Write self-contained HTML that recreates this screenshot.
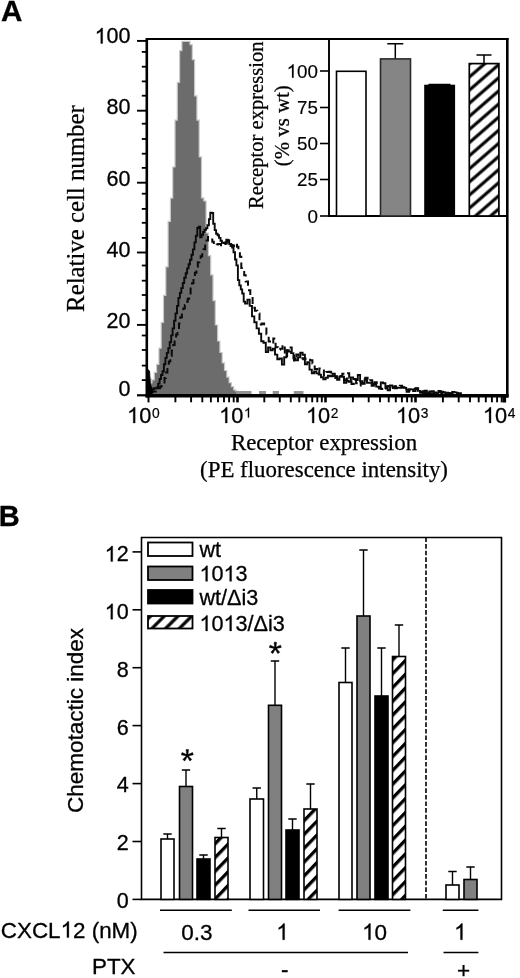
<!DOCTYPE html>
<html><head><meta charset="utf-8"><title>Figure</title>
<style>
html,body{margin:0;padding:0;background:#fff;}
body{width:520px;height:978px;overflow:hidden;font-family:"Liberation Sans",sans-serif;}
svg{display:block;filter:grayscale(1)}
.s{font-family:"Liberation Sans",sans-serif;fill:#000;stroke:#000;stroke-width:0.3px}
.f{font-family:"Liberation Serif",serif;fill:#000;stroke:#000;stroke-width:0.25px}
</style></head><body>
<svg width="520" height="978" viewBox="0 0 520 978">
<rect width="520" height="978" fill="#fff"/>
<defs>
<pattern id="hatchA" patternUnits="userSpaceOnUse" width="9.9" height="9.9" patternTransform="translate(469.5,76.9) rotate(-41)"><rect width="9.9" height="9.9" fill="#fff"/><rect y="-1.55" width="9.9" height="3.1" fill="#000"/><rect y="8.35" width="9.9" height="3.1" fill="#000"/></pattern>
<pattern id="hatchB" patternUnits="userSpaceOnUse" width="9.6" height="9.6" patternTransform="rotate(-46)"><rect width="9.6" height="9.6" fill="#fff"/><rect y="0" width="9.6" height="3.3" fill="#000"/></pattern>
<pattern id="hatchL" patternUnits="userSpaceOnUse" width="9.7" height="9.7" patternTransform="translate(152.4,628) rotate(-45)"><rect width="9.7" height="9.7" fill="#fff"/><rect y="-1.6" width="9.7" height="3.2" fill="#000"/><rect y="8.1" width="9.7" height="3.2" fill="#000"/></pattern>
</defs>
<polygon points="148.0,395.0 148.0,378.9 150.3,378.9 150.3,383.6 152.6,383.6 152.6,380.5 154.9,380.5 154.9,373.0 157.2,373.0 157.2,365.0 159.5,365.0 159.5,348.7 161.8,348.7 161.8,322.9 164.1,322.9 164.1,296.0 166.4,296.0 166.4,267.5 168.7,267.5 168.7,222.0 171.0,222.0 171.0,198.7 173.3,198.7 173.3,167.6 175.6,167.6 175.6,120.7 177.9,120.7 177.9,82.9 180.2,82.9 180.2,51.2 182.5,51.2 182.5,42.0 184.8,42.0 184.8,42.0 187.1,42.0 187.1,42.0 189.4,42.0 189.4,45.2 191.7,45.2 191.7,60.3 194.0,60.3 194.0,96.5 196.3,96.5 196.3,120.8 198.6,120.8 198.6,157.4 200.9,157.4 200.9,198.4 203.2,198.4 203.2,201.6 205.5,201.6 205.5,233.6 207.8,233.6 207.8,256.3 210.1,256.3 210.1,275.4 212.4,275.4 212.4,301.3 214.7,301.3 214.7,325.6 217.0,325.6 217.0,341.6 219.3,341.6 219.3,353.1 221.6,353.1 221.6,363.5 223.9,363.5 223.9,371.1 226.2,371.1 226.2,377.7 228.5,377.7 228.5,383.2 230.8,383.2 230.8,387.2 233.1,387.2 233.1,390.6 235.4,390.6 235.4,392.0 237.7,392.0 237.7,392.5 240.0,392.5 240.0,395.0" fill="#6c6c6c" stroke="#c9c9c9" stroke-width="2.4" stroke-linejoin="miter"/>
<polygon points="148.0,395.0 148.0,378.9 150.3,378.9 150.3,383.6 152.6,383.6 152.6,380.5 154.9,380.5 154.9,373.0 157.2,373.0 157.2,365.0 159.5,365.0 159.5,348.7 161.8,348.7 161.8,322.9 164.1,322.9 164.1,296.0 166.4,296.0 166.4,267.5 168.7,267.5 168.7,222.0 171.0,222.0 171.0,198.7 173.3,198.7 173.3,167.6 175.6,167.6 175.6,120.7 177.9,120.7 177.9,82.9 180.2,82.9 180.2,51.2 182.5,51.2 182.5,42.0 184.8,42.0 184.8,42.0 187.1,42.0 187.1,42.0 189.4,42.0 189.4,45.2 191.7,45.2 191.7,60.3 194.0,60.3 194.0,96.5 196.3,96.5 196.3,120.8 198.6,120.8 198.6,157.4 200.9,157.4 200.9,198.4 203.2,198.4 203.2,201.6 205.5,201.6 205.5,233.6 207.8,233.6 207.8,256.3 210.1,256.3 210.1,275.4 212.4,275.4 212.4,301.3 214.7,301.3 214.7,325.6 217.0,325.6 217.0,341.6 219.3,341.6 219.3,353.1 221.6,353.1 221.6,363.5 223.9,363.5 223.9,371.1 226.2,371.1 226.2,377.7 228.5,377.7 228.5,383.2 230.8,383.2 230.8,387.2 233.1,387.2 233.1,390.6 235.4,390.6 235.4,392.0 237.7,392.0 237.7,392.5 240.0,392.5 240.0,395.0" fill="#6c6c6c"/>
<rect x="236" y="391" width="15.5" height="3.5" fill="#939393"/>
<rect x="259" y="391" width="7" height="3.5" fill="#939393"/>
<rect x="272.7" y="391" width="6.300000000000011" height="3.5" fill="#939393"/>
<rect x="293.8" y="391" width="9.699999999999989" height="3.5" fill="#939393"/>
<path d="M148.0,372.0V384.8H149.4V391.2H150.9V391.1H152.3V389.3H153.8V388.2H155.2V388.5H156.7V387.4H158.1V383.6H159.6V379.0H161.0V375.0H162.5V371.3H163.9V364.2H165.4V357.9H166.8V352.9H168.3V348.3H169.7V342.3H171.2V335.4H172.6V328.4H174.1V320.8H175.5V313.4H177.0V305.9H178.4V297.9H179.9V292.9H181.3V288.1H182.8V283.0H184.2V277.7H185.7V273.3H187.1V268.4H188.6V264.2H190.0V259.8H191.5V254.8H192.9V249.4H194.4V242.4H195.8V235.8H197.3V228.0H198.7V226.8H200.2V237.3H201.6V234.7H203.1V232.0H204.5V229.8H206.0V228.3H207.4V225.2H208.9V219.1H210.3V212.8H211.8V213.0H213.2V223.7H214.7V230.1H216.1V233.7H217.6V235.3H219.0V237.9H220.5V240.7H221.9V242.6H223.4V243.1H224.8V242.5H226.3V239.8H227.7V240.1H229.2V244.1H230.6V246.0H232.1V247.6H233.5V252.3H235.0V259.5H236.4V265.4H237.9V280.1H239.3V285.4H240.8V289.4H242.2V293.5H243.7V301.6H245.1V303.6H247.4V299.6H249.7V305.9H252.0V316.4H254.3V322.3H256.6V328.4H258.9V333.7H261.2V341.3H263.5V342.8H265.8V352.1H268.1V347.4H270.4V350.4H272.7V348.7H275.0V354.6H277.3V359.3H279.6V358.4H281.9V364.6H284.2V357.3H286.5V350.2H288.8V351.6H291.1V353.1H293.4V358.3H295.7V360.4H298.0V357.4H300.3V352.7H302.6V354.7H304.9V364.2H307.2V362.3H309.5V369.6H311.8V373.2H314.1V371.5H316.4V373.4H318.7V374.6H321.0V377.2H323.3V379.3H325.6V377.7H327.9V375.8H330.2V376.3H332.5V373.8H334.8V376.3H337.1V379.7H339.4V376.8H341.7V376.8H344.0V382.7H346.3V380.8H348.6V381.7H350.9V377.4H353.2V379.0H355.5V380.1H357.8V375.0H360.1V381.2H362.4V383.9H364.7V379.1H367.0V382.7H369.3V382.7H371.6V385.8H373.9V384.0H376.2V386.6H378.5V387.3H380.8V382.5H383.1V383.3H385.4V388.0H387.7V390.2H390.0V385.4H392.3V386.5H394.6V388.2H396.9V387.6H399.2V387.7H401.6V387.4H403.9V387.9H406.2V389.6H408.5V389.1H410.8V389.4H413.1V391.1H415.4V388.3H417.7V390.9H420.0V392.7H422.3V391.3H424.6V390.7H426.9V393.1H429.2V391.4H431.5V391.3H433.8V392.4H436.1V393.2H438.4V391.0H440.7V391.8H443.0V392.3H445.3V393.2H447.6V393.2H449.9V393.2H452.2V391.9H454.5V392.4H456.8V393.2H459.1" fill="none" stroke="#0a0a0a" stroke-width="1.9" stroke-linejoin="miter"/>
<path d="M150.0,392.0V391.9H151.4V391.7H152.9V391.5H154.3V391.4H155.8V390.7H157.2V389.7H158.7V388.2H160.1V386.6H161.6V384.9H163.0V382.5H164.5V378.1H165.9V372.4H167.4V367.4H168.8V361.5H170.3V355.9H171.7V350.4H173.2V344.9H174.6V339.9H176.1V334.5H177.5V329.2H179.0V323.4H180.4V317.2H181.9V313.3H183.3V308.5H184.8V305.0H186.2V301.7H187.7V298.7H189.1V294.7H190.6V288.6H192.0V283.3H193.5V278.5H194.9V272.7H196.4V266.8H197.8V262.2H199.3V259.0H200.7V256.2H202.2V252.9H203.6V249.2H205.1V243.8H206.5V240.5H208.0V237.1H209.4V237.9H210.9V239.5H212.3V241.8H213.8V244.7H215.2V245.1H216.7V244.6H218.1V244.1H219.6V244.1H221.0V245.2H222.5V245.6H223.9V244.9H225.4V243.4H226.8V241.8H228.3V241.1H229.7V242.4H231.2V245.0H232.6V245.6H234.1V247.2H235.5V244.7H237.0V246.8H238.4V249.9H239.9V256.7H241.3V267.9H242.8V270.9H244.2V275.2H245.7V281.4H248.0V290.2H250.3V295.3H252.6V307.8H254.9V310.7H257.2V313.4H259.5V324.4H261.8V323.5H264.1V325.9H266.4V334.3H268.7V341.4H271.0V343.6H273.3V338.6H275.6V347.3H277.9V349.8H280.2V348.8H282.5V344.7H284.8V356.0H287.1V348.0H289.4V347.4H291.7V353.2H294.0V360.4H296.3V354.5H298.6V357.4H300.9V358.3H303.2V359.3H305.5V358.4H307.8V358.1H310.1V360.3H312.4V363.4H314.7V369.0H317.0V373.3H319.3V368.5H321.6V368.4H323.9V375.5H326.2V371.9H328.5V371.8H330.8V372.4H333.1V376.0H335.4V377.9H337.7V375.4H340.0V376.0H342.3V373.8H344.6V380.2H346.9V373.3H349.2V377.8H351.5V383.9H353.8V379.2H356.1V383.3H358.4V385.6H360.7V382.9H363.0V383.5H365.3V377.8H367.6V381.1H369.9V380.3H372.2V386.3H374.5V382.3H376.8V382.9H379.1V388.6H381.4V388.9H383.7V390.1H386.0V386.3H388.3V386.0H390.6V388.1H392.9V387.1H395.2V386.3H397.5V387.0H399.8V385.8H402.1V387.3H404.4V391.1H406.7V391.8H409.0V390.4H411.3V389.6H413.6V389.0H415.9V388.4H418.2V389.6H420.5V392.1H422.8V393.0H425.1V391.2H427.4V393.1H429.7V393.2H432.0V393.2H434.3V393.1H436.6V393.2H438.9V391.9H441.2V393.2H443.5V392.2H445.8V392.8H448.1V393.2H450.4V393.2H452.7V392.6H455.0V393.2H457.3V393.2H459.6V393.2H461.9" fill="none" stroke="#0a0a0a" stroke-width="2" stroke-linejoin="miter" stroke-dasharray="7 4.5"/>
<path d="M147.5,369 L149.6,371 L150.3,384 L153.3,391.5 L152,394 L147.5,394Z" fill="#000" stroke="#000" stroke-width="0.8" stroke-linejoin="round"/>
<line x1="146" y1="39.1" x2="508.6" y2="39.1" stroke="#000" stroke-width="2"/>
<line x1="507.3" y1="38.1" x2="507.3" y2="397.5" stroke="#000" stroke-width="2.6"/>
<line x1="145.5" y1="395.8" x2="508.6" y2="395.8" stroke="#000" stroke-width="3.4"/>
<line x1="146.8" y1="38.1" x2="146.8" y2="397.5" stroke="#000" stroke-width="2.6"/>
<line x1="137" y1="40.9" x2="147" y2="40.9" stroke="#000" stroke-width="1.9"/>
<line x1="137" y1="110.7" x2="147" y2="110.7" stroke="#000" stroke-width="1.9"/>
<line x1="137" y1="182.7" x2="147" y2="182.7" stroke="#000" stroke-width="1.9"/>
<line x1="137" y1="252.5" x2="147" y2="252.5" stroke="#000" stroke-width="1.9"/>
<line x1="137" y1="324.9" x2="147" y2="324.9" stroke="#000" stroke-width="1.9"/>
<line x1="137" y1="395.3" x2="147" y2="395.3" stroke="#000" stroke-width="2.2"/>
<line x1="141.8" y1="51.9" x2="147" y2="51.9" stroke="#000" stroke-width="1.8"/>
<line x1="141.8" y1="66.7" x2="147" y2="66.7" stroke="#000" stroke-width="1.8"/>
<line x1="141.8" y1="81.4" x2="147" y2="81.4" stroke="#000" stroke-width="1.8"/>
<line x1="141.8" y1="95.7" x2="147" y2="95.7" stroke="#000" stroke-width="1.8"/>
<line x1="141.8" y1="123.7" x2="147" y2="123.7" stroke="#000" stroke-width="1.8"/>
<line x1="141.8" y1="139.0" x2="147" y2="139.0" stroke="#000" stroke-width="1.8"/>
<line x1="141.8" y1="153.7" x2="147" y2="153.7" stroke="#000" stroke-width="1.8"/>
<line x1="141.8" y1="167.9" x2="147" y2="167.9" stroke="#000" stroke-width="1.8"/>
<line x1="141.8" y1="193.7" x2="147" y2="193.7" stroke="#000" stroke-width="1.8"/>
<line x1="141.8" y1="208.9" x2="147" y2="208.9" stroke="#000" stroke-width="1.8"/>
<line x1="141.8" y1="222.8" x2="147" y2="222.8" stroke="#000" stroke-width="1.8"/>
<line x1="141.8" y1="237.9" x2="147" y2="237.9" stroke="#000" stroke-width="1.8"/>
<line x1="141.8" y1="265.5" x2="147" y2="265.5" stroke="#000" stroke-width="1.8"/>
<line x1="141.8" y1="280.7" x2="147" y2="280.7" stroke="#000" stroke-width="1.8"/>
<line x1="141.8" y1="295.0" x2="147" y2="295.0" stroke="#000" stroke-width="1.8"/>
<line x1="141.8" y1="310.2" x2="147" y2="310.2" stroke="#000" stroke-width="1.8"/>
<line x1="141.8" y1="335.5" x2="147" y2="335.5" stroke="#000" stroke-width="1.8"/>
<line x1="141.8" y1="350.0" x2="147" y2="350.0" stroke="#000" stroke-width="1.8"/>
<line x1="141.8" y1="365.6" x2="147" y2="365.6" stroke="#000" stroke-width="1.8"/>
<line x1="141.8" y1="380.1" x2="147" y2="380.1" stroke="#000" stroke-width="1.8"/>
<path transform="translate(94.63,43.40) scale(0.01050,-0.01050)" d="M763 0L583 0L583 1147Q518 1085 412.5 1023Q307 961 223 930L223 1104Q374 1175 487 1276Q600 1377 647 1472L763 1472Z" fill="#000" stroke="#000" stroke-width="29"/>
<text x="106.58" y="43.40" font-size="21.5" class="s" style="stroke-width:0.3px">00</text>
<text x="106.58" y="114.40" font-size="21.5" class="s" style="stroke-width:0.3px">80</text>
<text x="106.58" y="185.70" font-size="21.5" class="s" style="stroke-width:0.3px">60</text>
<text x="106.58" y="256.70" font-size="21.5" class="s" style="stroke-width:0.3px">40</text>
<text x="106.58" y="328.20" font-size="21.5" class="s" style="stroke-width:0.3px">20</text>
<text x="118.54" y="396.00" font-size="21.5" class="s" style="stroke-width:0.3px">0</text>
<line x1="148.5" y1="396" x2="148.5" y2="402.4" stroke="#000" stroke-width="2"/>
<line x1="175.4" y1="396" x2="175.4" y2="402.3" stroke="#000" stroke-width="1.9"/>
<line x1="191.1" y1="396" x2="191.1" y2="402.3" stroke="#000" stroke-width="1.9"/>
<line x1="202.3" y1="396" x2="202.3" y2="402.3" stroke="#000" stroke-width="1.9"/>
<line x1="210.9" y1="396" x2="210.9" y2="402.3" stroke="#000" stroke-width="1.9"/>
<line x1="218.0" y1="396" x2="218.0" y2="402.3" stroke="#000" stroke-width="1.9"/>
<line x1="224.0" y1="396" x2="224.0" y2="402.3" stroke="#000" stroke-width="1.9"/>
<line x1="229.1" y1="396" x2="229.1" y2="402.3" stroke="#000" stroke-width="1.9"/>
<line x1="233.7" y1="396" x2="233.7" y2="402.3" stroke="#000" stroke-width="1.9"/>
<line x1="237.5" y1="396" x2="237.5" y2="402.4" stroke="#000" stroke-width="2.6"/>
<line x1="264.3" y1="396" x2="264.3" y2="402.3" stroke="#000" stroke-width="1.9"/>
<line x1="279.8" y1="396" x2="279.8" y2="402.3" stroke="#000" stroke-width="1.9"/>
<line x1="290.8" y1="396" x2="290.8" y2="402.3" stroke="#000" stroke-width="1.9"/>
<line x1="299.3" y1="396" x2="299.3" y2="402.3" stroke="#000" stroke-width="1.9"/>
<line x1="306.3" y1="396" x2="306.3" y2="402.3" stroke="#000" stroke-width="1.9"/>
<line x1="312.2" y1="396" x2="312.2" y2="402.3" stroke="#000" stroke-width="1.9"/>
<line x1="317.3" y1="396" x2="317.3" y2="402.3" stroke="#000" stroke-width="1.9"/>
<line x1="321.8" y1="396" x2="321.8" y2="402.3" stroke="#000" stroke-width="1.9"/>
<line x1="325.5" y1="396" x2="325.5" y2="402.4" stroke="#000" stroke-width="2.6"/>
<line x1="352.9" y1="396" x2="352.9" y2="402.3" stroke="#000" stroke-width="1.9"/>
<line x1="368.7" y1="396" x2="368.7" y2="402.3" stroke="#000" stroke-width="1.9"/>
<line x1="380.0" y1="396" x2="380.0" y2="402.3" stroke="#000" stroke-width="1.9"/>
<line x1="388.7" y1="396" x2="388.7" y2="402.3" stroke="#000" stroke-width="1.9"/>
<line x1="395.8" y1="396" x2="395.8" y2="402.3" stroke="#000" stroke-width="1.9"/>
<line x1="401.9" y1="396" x2="401.9" y2="402.3" stroke="#000" stroke-width="1.9"/>
<line x1="407.1" y1="396" x2="407.1" y2="402.3" stroke="#000" stroke-width="1.9"/>
<line x1="411.7" y1="396" x2="411.7" y2="402.3" stroke="#000" stroke-width="1.9"/>
<line x1="415.5" y1="396" x2="415.5" y2="402.4" stroke="#000" stroke-width="2.6"/>
<line x1="442.9" y1="396" x2="442.9" y2="402.3" stroke="#000" stroke-width="1.9"/>
<line x1="458.7" y1="396" x2="458.7" y2="402.3" stroke="#000" stroke-width="1.9"/>
<line x1="470.0" y1="396" x2="470.0" y2="402.3" stroke="#000" stroke-width="1.9"/>
<line x1="478.7" y1="396" x2="478.7" y2="402.3" stroke="#000" stroke-width="1.9"/>
<line x1="485.8" y1="396" x2="485.8" y2="402.3" stroke="#000" stroke-width="1.9"/>
<line x1="491.9" y1="396" x2="491.9" y2="402.3" stroke="#000" stroke-width="1.9"/>
<line x1="497.1" y1="396" x2="497.1" y2="402.3" stroke="#000" stroke-width="1.9"/>
<line x1="501.7" y1="396" x2="501.7" y2="402.3" stroke="#000" stroke-width="1.9"/>
<line x1="504.3" y1="396" x2="504.3" y2="402.5" stroke="#000" stroke-width="3.6"/>
<path transform="translate(127.05,423.00) scale(0.01064,-0.01064)" d="M763 0L583 0L583 1147Q518 1085 412.5 1023Q307 961 223 930L223 1104Q374 1175 487 1276Q600 1377 647 1472L763 1472Z" fill="#000" stroke="#000" stroke-width="28"/>
<text x="139.17" y="423.00" font-size="21.8" class="s" style="stroke-width:0.3px">0</text>
<text x="151.90" y="417.60" font-size="13.8" class="s" style="stroke-width:0.2px">0</text>
<path transform="translate(219.10,423.00) scale(0.01064,-0.01064)" d="M763 0L583 0L583 1147Q518 1085 412.5 1023Q307 961 223 930L223 1104Q374 1175 487 1276Q600 1377 647 1472L763 1472Z" fill="#000" stroke="#000" stroke-width="28"/>
<text x="231.22" y="423.00" font-size="21.8" class="s" style="stroke-width:0.3px">0</text>
<path transform="translate(243.95,417.60) scale(0.00674,-0.00674)" d="M763 0L583 0L583 1147Q518 1085 412.5 1023Q307 961 223 930L223 1104Q374 1175 487 1276Q600 1377 647 1472L763 1472Z" fill="#000" stroke="#000" stroke-width="30"/>
<path transform="translate(306.00,423.00) scale(0.01064,-0.01064)" d="M763 0L583 0L583 1147Q518 1085 412.5 1023Q307 961 223 930L223 1104Q374 1175 487 1276Q600 1377 647 1472L763 1472Z" fill="#000" stroke="#000" stroke-width="28"/>
<text x="318.12" y="423.00" font-size="21.8" class="s" style="stroke-width:0.3px">0</text>
<text x="330.85" y="417.60" font-size="13.8" class="s" style="stroke-width:0.2px">2</text>
<path transform="translate(396.00,423.00) scale(0.01064,-0.01064)" d="M763 0L583 0L583 1147Q518 1085 412.5 1023Q307 961 223 930L223 1104Q374 1175 487 1276Q600 1377 647 1472L763 1472Z" fill="#000" stroke="#000" stroke-width="28"/>
<text x="408.12" y="423.00" font-size="21.8" class="s" style="stroke-width:0.3px">0</text>
<text x="420.85" y="417.60" font-size="13.8" class="s" style="stroke-width:0.2px">3</text>
<path transform="translate(482.90,423.00) scale(0.01064,-0.01064)" d="M763 0L583 0L583 1147Q518 1085 412.5 1023Q307 961 223 930L223 1104Q374 1175 487 1276Q600 1377 647 1472L763 1472Z" fill="#000" stroke="#000" stroke-width="28"/>
<text x="495.02" y="423.00" font-size="21.8" class="s" style="stroke-width:0.3px">0</text>
<text x="507.75" y="417.60" font-size="13.8" class="s" style="stroke-width:0.2px">4</text>
<text x="324" y="449.5" font-size="22.9" text-anchor="middle" class="f">Receptor expression</text>
<text x="324" y="477" font-size="22.9" text-anchor="middle" class="f">(PE fluorescence intensity)</text>
<text transform="translate(83.7,208.6) rotate(-90)" font-size="24.8" text-anchor="middle" class="f">Relative cell number</text>
<text x="1.0" y="21.1" font-size="29.6" font-weight="bold" class="s">A</text>
<rect x="250" y="41" width="78" height="178" fill="#fff"/>
<path d="M329,39 V216 H507.5" fill="none" stroke="#000" stroke-width="1.9"/>
<line x1="320" y1="71" x2="328.5" y2="71" stroke="#000" stroke-width="1.6"/>
<path transform="translate(286.63,77.70) scale(0.00918,-0.00918)" d="M763 0L583 0L583 1147Q518 1085 412.5 1023Q307 961 223 930L223 1104Q374 1175 487 1276Q600 1377 647 1472L763 1472Z" fill="#000" stroke="#000" stroke-width="16"/>
<text x="297.09" y="77.70" font-size="18.8" class="s" style="stroke-width:0.15px">00</text>
<line x1="320" y1="107.5" x2="328.5" y2="107.5" stroke="#000" stroke-width="1.6"/>
<text x="297.09" y="114.20" font-size="18.8" class="s" style="stroke-width:0.15px">75</text>
<line x1="320" y1="143.5" x2="328.5" y2="143.5" stroke="#000" stroke-width="1.6"/>
<text x="297.09" y="150.20" font-size="18.8" class="s" style="stroke-width:0.15px">50</text>
<line x1="320" y1="179.5" x2="328.5" y2="179.5" stroke="#000" stroke-width="1.6"/>
<text x="297.09" y="186.20" font-size="18.8" class="s" style="stroke-width:0.15px">25</text>
<line x1="320" y1="216" x2="328.5" y2="216" stroke="#000" stroke-width="1.6"/>
<text x="307.54" y="222.70" font-size="18.8" class="s" style="stroke-width:0.15px">0</text>
<text transform="translate(263,125.2) rotate(-90)" font-size="20.6" text-anchor="middle" class="f">Receptor expression</text>
<text transform="translate(289,125.7) rotate(-90)" font-size="20.8" text-anchor="middle" class="f">(% vs wt)</text>
<path d="M395.3,58.9 V43.7 M387.3,43.7 H403.3" stroke="#000" stroke-width="1.5" fill="none"/>
<path d="M439.5,86 V84.5 M428.5,84.5 H450.5" stroke="#000" stroke-width="1.5" fill="none"/>
<path d="M484,63.6 V55 M476.5,55 H491.5" stroke="#000" stroke-width="1.5" fill="none"/>
<rect x="336.5" y="71.3" width="29.5" height="144.7" fill="#fff" stroke="#000" stroke-width="1.6"/>
<rect x="380.5" y="58.9" width="30" height="157.1" fill="#858585" stroke="#2a2a2a" stroke-width="1.6"/>
<rect x="425" y="85.5" width="29.3" height="130.5" fill="#000" stroke="#000" stroke-width="1.6"/>
<rect x="469.3" y="63.6" width="29.6" height="152.4" fill="url(#hatchA)" stroke="#000" stroke-width="1.7"/>
<path d="M141.5,537.5 H501.5 V899.4 H141.5 Z" fill="none" stroke="#000" stroke-width="1.6"/>
<line x1="132.5" y1="899.4" x2="141.5" y2="899.4" stroke="#000" stroke-width="1.6"/>
<text x="116.64" y="908.00" font-size="21.5" class="s" style="stroke-width:0.3px">0</text>
<line x1="132.5" y1="841.5" x2="141.5" y2="841.5" stroke="#000" stroke-width="1.6"/>
<text x="116.64" y="850.25" font-size="21.5" class="s" style="stroke-width:0.3px">2</text>
<line x1="132.5" y1="783.6" x2="141.5" y2="783.6" stroke="#000" stroke-width="1.6"/>
<text x="116.64" y="792.49" font-size="21.5" class="s" style="stroke-width:0.3px">4</text>
<line x1="132.5" y1="725.6" x2="141.5" y2="725.6" stroke="#000" stroke-width="1.6"/>
<text x="116.64" y="734.74" font-size="21.5" class="s" style="stroke-width:0.3px">6</text>
<line x1="132.5" y1="667.7" x2="141.5" y2="667.7" stroke="#000" stroke-width="1.6"/>
<text x="116.64" y="676.99" font-size="21.5" class="s" style="stroke-width:0.3px">8</text>
<line x1="132.5" y1="609.8" x2="141.5" y2="609.8" stroke="#000" stroke-width="1.6"/>
<path transform="translate(104.68,619.23) scale(0.01050,-0.01050)" d="M763 0L583 0L583 1147Q518 1085 412.5 1023Q307 961 223 930L223 1104Q374 1175 487 1276Q600 1377 647 1472L763 1472Z" fill="#000" stroke="#000" stroke-width="29"/>
<text x="116.64" y="619.23" font-size="21.5" class="s" style="stroke-width:0.3px">0</text>
<line x1="132.5" y1="551.9" x2="141.5" y2="551.9" stroke="#000" stroke-width="1.6"/>
<path transform="translate(104.68,561.48) scale(0.01050,-0.01050)" d="M763 0L583 0L583 1147Q518 1085 412.5 1023Q307 961 223 930L223 1104Q374 1175 487 1276Q600 1377 647 1472L763 1472Z" fill="#000" stroke="#000" stroke-width="29"/>
<text x="116.64" y="561.48" font-size="21.5" class="s" style="stroke-width:0.3px">2</text>
<line x1="426" y1="537.5" x2="426" y2="899.4" stroke="#000" stroke-width="1.6" stroke-dasharray="4.6 2"/>
<path d="M167.5,839 V834 M163.3,834 H171.7" stroke="#000" stroke-width="1.4" fill="none"/>
<rect x="161" y="839" width="13" height="60.39999999999998" fill="#fff" stroke="#000" stroke-width="1.6"/>
<path d="M186.0,786.5 V770 M181.8,770 H190.2" stroke="#000" stroke-width="1.4" fill="none"/>
<rect x="179.5" y="786.5" width="13.0" height="112.89999999999998" fill="#808080" stroke="#000" stroke-width="1.6"/>
<path d="M203.5,859 V855 M199.3,855 H207.7" stroke="#000" stroke-width="1.4" fill="none"/>
<rect x="197" y="859" width="13" height="40.39999999999998" fill="#000" stroke="#000" stroke-width="1.6"/>
<path d="M221.5,837.5 V828.5 M217.3,828.5 H225.7" stroke="#000" stroke-width="1.4" fill="none"/>
<rect x="215" y="837.5" width="13" height="61.89999999999998" fill="url(#hatchB)" stroke="#000" stroke-width="1.6"/>
<path d="M256.75,799 V788 M252.55,788 H260.95" stroke="#000" stroke-width="1.4" fill="none"/>
<rect x="250" y="799" width="13.5" height="100.39999999999998" fill="#fff" stroke="#000" stroke-width="1.6"/>
<path d="M275.0,705.3 V661 M270.8,661 H279.2" stroke="#000" stroke-width="1.4" fill="none"/>
<rect x="268.5" y="705.3" width="13.0" height="194.10000000000002" fill="#808080" stroke="#000" stroke-width="1.6"/>
<path d="M292.5,830 V819 M288.3,819 H296.7" stroke="#000" stroke-width="1.4" fill="none"/>
<rect x="286" y="830" width="13" height="69.39999999999998" fill="#000" stroke="#000" stroke-width="1.6"/>
<path d="M310.5,809 V784 M306.3,784 H314.7" stroke="#000" stroke-width="1.4" fill="none"/>
<rect x="304" y="809" width="13" height="90.39999999999998" fill="url(#hatchB)" stroke="#000" stroke-width="1.6"/>
<path d="M345.5,682.5 V648 M341.3,648 H349.7" stroke="#000" stroke-width="1.4" fill="none"/>
<rect x="339" y="682.5" width="13" height="216.89999999999998" fill="#fff" stroke="#000" stroke-width="1.6"/>
<path d="M363.5,616 V550 M359.3,550 H367.7" stroke="#000" stroke-width="1.4" fill="none"/>
<rect x="357" y="616" width="13" height="283.4" fill="#808080" stroke="#000" stroke-width="1.6"/>
<path d="M381.5,696 V648 M377.3,648 H385.7" stroke="#000" stroke-width="1.4" fill="none"/>
<rect x="375" y="696" width="13" height="203.39999999999998" fill="#000" stroke="#000" stroke-width="1.6"/>
<path d="M399.0,656.5 V625 M394.8,625 H403.2" stroke="#000" stroke-width="1.4" fill="none"/>
<rect x="392.5" y="656.5" width="13.0" height="242.89999999999998" fill="url(#hatchB)" stroke="#000" stroke-width="1.6"/>
<path d="M452.5,885 V871.5 M448.3,871.5 H456.7" stroke="#000" stroke-width="1.4" fill="none"/>
<rect x="446" y="885" width="13" height="14.399999999999977" fill="#fff" stroke="#000" stroke-width="1.6"/>
<path d="M470.5,879.5 V867 M466.3,867 H474.7" stroke="#000" stroke-width="1.4" fill="none"/>
<rect x="464" y="879.5" width="13" height="19.899999999999977" fill="#808080" stroke="#000" stroke-width="1.6"/>
<rect x="148" y="542.5" width="44.5" height="13.5" fill="#fff" stroke="#000" stroke-width="1.8"/>
<text x="199.50" y="557.35" font-size="21.6" class="s" style="stroke-width:0.3px">wt</text>
<rect x="148" y="566.5" width="44.5" height="13.5" fill="#808080" stroke="#000" stroke-width="1.8"/>
<path transform="translate(199.50,581.35) scale(0.01055,-0.01055)" d="M763 0L583 0L583 1147Q518 1085 412.5 1023Q307 961 223 930L223 1104Q374 1175 487 1276Q600 1377 647 1472L763 1472Z" fill="#000" stroke="#000" stroke-width="28"/>
<text x="211.51" y="581.35" font-size="21.6" class="s" style="stroke-width:0.3px">0</text>
<path transform="translate(223.53,581.35) scale(0.01055,-0.01055)" d="M763 0L583 0L583 1147Q518 1085 412.5 1023Q307 961 223 930L223 1104Q374 1175 487 1276Q600 1377 647 1472L763 1472Z" fill="#000" stroke="#000" stroke-width="28"/>
<text x="235.54" y="581.35" font-size="21.6" class="s" style="stroke-width:0.3px">3</text>
<rect x="148" y="590" width="44.5" height="13.5" fill="#000" stroke="#000" stroke-width="1.8"/>
<text x="199.50" y="604.85" font-size="21.6" class="s" style="stroke-width:0.3px">wt/Δi3</text>
<rect x="148" y="616" width="44.5" height="12.5" fill="url(#hatchL)" stroke="#000" stroke-width="1.8"/>
<path transform="translate(199.50,630.95) scale(0.01055,-0.01055)" d="M763 0L583 0L583 1147Q518 1085 412.5 1023Q307 961 223 930L223 1104Q374 1175 487 1276Q600 1377 647 1472L763 1472Z" fill="#000" stroke="#000" stroke-width="28"/>
<text x="211.51" y="630.95" font-size="21.6" class="s" style="stroke-width:0.3px">0</text>
<path transform="translate(223.53,630.95) scale(0.01055,-0.01055)" d="M763 0L583 0L583 1147Q518 1085 412.5 1023Q307 961 223 930L223 1104Q374 1175 487 1276Q600 1377 647 1472L763 1472Z" fill="#000" stroke="#000" stroke-width="28"/>
<text x="235.54" y="630.95" font-size="21.6" class="s" style="stroke-width:0.3px">3/Δi3</text>
<path d="M187.90,754.90 L188.50,749.60 L186.10,749.60 L186.70,754.90ZM188.06,755.89 L193.28,754.82 L192.54,752.54 L187.69,754.74ZM187.17,756.34 L189.80,760.98 L191.74,759.57 L188.14,755.63ZM186.46,755.63 L182.86,759.57 L184.80,760.98 L187.43,756.34ZM186.91,754.74 L182.06,752.54 L181.32,754.82 L186.54,755.89Z" fill="#000" stroke="#000" stroke-width="0.5" stroke-linejoin="round"/>
<circle cx="187.3" cy="755.5" r="1.6" fill="#000"/>
<path d="M275.90,647.50 L276.50,642.20 L274.10,642.20 L274.70,647.50ZM276.06,648.49 L281.28,647.42 L280.54,645.14 L275.69,647.34ZM275.17,648.94 L277.80,653.58 L279.74,652.17 L276.14,648.23ZM274.46,648.23 L270.86,652.17 L272.80,653.58 L275.43,648.94ZM274.91,647.34 L270.06,645.14 L269.32,647.42 L274.54,648.49Z" fill="#000" stroke="#000" stroke-width="0.5" stroke-linejoin="round"/>
<circle cx="275.3" cy="648.1" r="1.6" fill="#000"/>
<text transform="translate(83.2,720.5) rotate(-90)" font-size="22.5" text-anchor="middle" class="s">Chemotactic index</text>
<text x="-1.2" y="526" font-size="29" font-weight="bold" class="s">B</text>
<line x1="160" y1="910.2" x2="231.8" y2="910.2" stroke="#000" stroke-width="1.5"/>
<line x1="248.5" y1="910.2" x2="320" y2="910.2" stroke="#000" stroke-width="1.5"/>
<line x1="338.6" y1="910.2" x2="410.4" y2="910.2" stroke="#000" stroke-width="1.5"/>
<line x1="442.8" y1="910.2" x2="478.4" y2="910.2" stroke="#000" stroke-width="1.5"/>
<line x1="163.5" y1="952.5" x2="408" y2="952.5" stroke="#000" stroke-width="1.5"/>
<line x1="443.5" y1="952.5" x2="478.4" y2="952.5" stroke="#000" stroke-width="1.5"/>
<text x="0.80" y="937.60" font-size="22.4" class="s" style="stroke-width:0.3px">CXCL</text>
<path transform="translate(60.55,937.60) scale(0.01094,-0.01094)" d="M763 0L583 0L583 1147Q518 1085 412.5 1023Q307 961 223 930L223 1104Q374 1175 487 1276Q600 1377 647 1472L763 1472Z" fill="#000" stroke="#000" stroke-width="27"/>
<text x="73.01" y="937.60" font-size="22.4" class="s" style="stroke-width:0.3px">2 (nM)</text>
<text x="181.16" y="939.80" font-size="22.5" class="s" style="stroke-width:0.3px">0.3</text>
<path transform="translate(276.24,939.80) scale(0.01099,-0.01099)" d="M763 0L583 0L583 1147Q518 1085 412.5 1023Q307 961 223 930L223 1104Q374 1175 487 1276Q600 1377 647 1472L763 1472Z" fill="#000" stroke="#000" stroke-width="27"/>
<path transform="translate(362.09,939.80) scale(0.01099,-0.01099)" d="M763 0L583 0L583 1147Q518 1085 412.5 1023Q307 961 223 930L223 1104Q374 1175 487 1276Q600 1377 647 1472L763 1472Z" fill="#000" stroke="#000" stroke-width="27"/>
<text x="374.60" y="939.80" font-size="22.5" class="s" style="stroke-width:0.3px">0</text>
<path transform="translate(454.04,939.80) scale(0.01099,-0.01099)" d="M763 0L583 0L583 1147Q518 1085 412.5 1023Q307 961 223 930L223 1104Q374 1175 487 1276Q600 1377 647 1472L763 1472Z" fill="#000" stroke="#000" stroke-width="27"/>
<text x="92" y="973.7" font-size="22.4" class="s">PTX</text>
<text x="284.8" y="977" font-size="22.5" text-anchor="middle" class="s">-</text>
<text x="463.6" y="977.8" font-size="22.5" text-anchor="middle" class="s">+</text>
</svg>
</body></html>
